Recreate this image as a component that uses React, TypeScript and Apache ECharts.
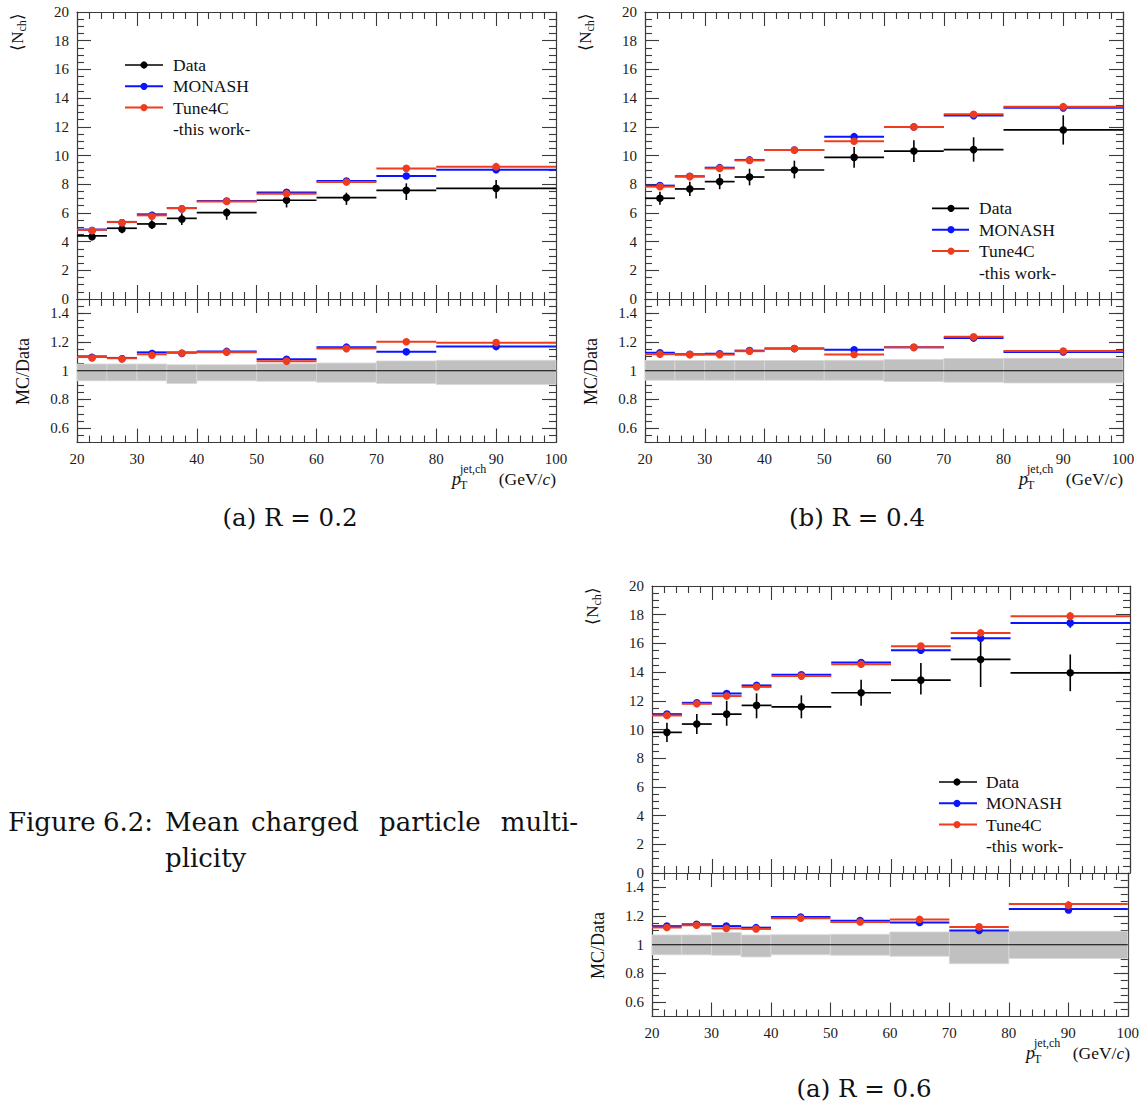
import { useEffect, useRef } from "react";
import * as echarts from "echarts";

// ---------- bins ----------
const binLo = [20, 25, 30, 35, 40, 50, 60, 70, 80];
const binHi = [25, 30, 35, 40, 50, 60, 70, 80, 100];
const ratioTickValues = [0.6, 0.8, 1, 1.2, 1.4];
const legendNames = ["Data", "MONASH", "Tune4C"];

// ---------- R = 0.2 ----------
const dataA = [4.40, 4.93, 5.23, 5.62, 6.02, 6.88, 7.06, 7.57, 7.71];
const dataAErrUp = [0.20, 0.25, 0.25, 0.35, 0.30, 0.40, 0.35, 0.49, 0.58];
const dataAErrDn = [0.30, 0.35, 0.35, 0.46, 0.50, 0.50, 0.50, 0.67, 0.70];
const monashA = [4.84, 5.37, 5.90, 6.33, 6.83, 7.43, 8.22, 8.57, 9.01];
const monashAErr = [0.03, 0.03, 0.03, 0.04, 0.04, 0.05, 0.06, 0.08, 0.15];
const tuneA = [4.82, 5.36, 5.83, 6.34, 6.80, 7.34, 8.15, 9.10, 9.22];
const tuneAErr = [0.03, 0.03, 0.03, 0.04, 0.04, 0.05, 0.06, 0.10, 0.20];
const bandAUp = [0.047, 0.047, 0.047, 0.042, 0.042, 0.049, 0.054, 0.068, 0.073];
const bandADn = [0.070, 0.070, 0.070, 0.089, 0.070, 0.073, 0.080, 0.089, 0.096];

// ---------- R = 0.4 ----------
const dataB = [7.02, 7.67, 8.18, 8.50, 8.99, 9.87, 10.31, 10.41, 11.78];
const dataBErrUp = [0.46, 0.50, 0.53, 0.58, 0.65, 0.72, 0.76, 0.86, 1.02];
const dataBErrDn = [0.46, 0.50, 0.53, 0.58, 0.58, 0.72, 0.76, 0.84, 1.02];
const monashB = [7.90, 8.55, 9.15, 9.69, 10.38, 11.31, 11.99, 12.78, 13.32];
const monashBErr = [0.03, 0.04, 0.04, 0.05, 0.05, 0.06, 0.08, 0.12, 0.20];
const tuneB = [7.83, 8.53, 9.10, 9.66, 10.38, 10.99, 11.99, 12.87, 13.40];
const tuneBErr = [0.03, 0.04, 0.04, 0.05, 0.05, 0.06, 0.08, 0.12, 0.25];
const bandBUp = [0.071, 0.071, 0.071, 0.071, 0.071, 0.073, 0.078, 0.085, 0.087];
const bandBDn = [0.066, 0.066, 0.066, 0.066, 0.066, 0.066, 0.075, 0.080, 0.085];

// ---------- R = 0.6 ----------
const dataC = [9.80, 10.38, 11.07, 11.68, 11.58, 12.56, 13.44, 14.88, 13.95];
const dataCErrUp = [0.67, 0.70, 0.93, 0.84, 0.80, 0.90, 1.20, 1.92, 1.28];
const dataCErrDn = [0.67, 0.70, 0.81, 0.90, 0.80, 0.90, 1.00, 1.92, 1.28];
const monashC = [11.07, 11.86, 12.51, 13.07, 13.81, 14.67, 15.53, 16.36, 17.43];
const monashCErr = [0.04, 0.05, 0.05, 0.06, 0.06, 0.08, 0.12, 0.25, 0.35];
const tuneC = [10.98, 11.79, 12.33, 12.97, 13.72, 14.55, 15.81, 16.73, 17.90];
const tuneCErr = [0.04, 0.05, 0.05, 0.06, 0.06, 0.08, 0.15, 0.20, 0.30];
const bandCUp = [0.068, 0.068, 0.085, 0.068, 0.070, 0.073, 0.089, 0.096, 0.094];
const bandCDn = [0.070, 0.070, 0.073, 0.085, 0.070, 0.073, 0.080, 0.132, 0.096];

// ---------- styles ----------
const BLACK = "#000000";
const BLUE = "#0a14ff";
const RED = "#f03c1e";
const AXIS = "#3a3a3a";
const FONT = "Liberation Serif";
const CAPFONT = "DejaVu Serif";

const panels = [
  {
    data: dataA, dUp: dataAErrUp, dDn: dataAErrDn,
    monash: monashA, mErr: monashAErr, tune: tuneA, tErr: tuneAErr,
    bUp: bandAUp, bDn: bandADn,
    left: 77, width: 479, top: 12,
    caption: "(a) R = 0.2", capX: 290, capY: 517,
    leg: { x1: 125, x2: 163, dot: 144, tx: 173, y: 65, dy: 21.3 },
  },
  {
    data: dataB, dUp: dataBErrUp, dDn: dataBErrDn,
    monash: monashB, mErr: monashBErr, tune: tuneB, tErr: tuneBErr,
    bUp: bandBUp, bDn: bandBDn,
    left: 645, width: 478, top: 12,
    caption: "(b) R = 0.4", capX: 857, capY: 517,
    leg: { x1: 932, x2: 969, dot: 951, tx: 979, y: 208.3, dy: 21.4 },
  },
  {
    data: dataC, dUp: dataCErrUp, dDn: dataCErrDn,
    monash: monashC, mErr: monashCErr, tune: tuneC, tErr: tuneCErr,
    bUp: bandCUp, bDn: bandCDn,
    left: 652, width: 478, top: 586,
    caption: "(a) R = 0.6", capX: 864, capY: 1088,
    leg: { x1: 939, x2: 977, dot: 957, tx: 986, y: 782, dy: 21.3 },
  },
];

const UPPER_H = 287;
const RATIO_H = 143.5;

function histRender(color: string, lw: number) {
  return (_params: any, api: any) => {
    const lo = api.value(0);
    const hi = api.value(1);
    const y = api.value(2);
    const up = api.value(3);
    const dn = api.value(4);
    const xc = (lo + hi) / 2;
    const a = api.coord([lo, y]);
    const b = api.coord([hi, y]);
    const c = api.coord([xc, y]);
    const t = api.coord([xc, y + up]);
    const d = api.coord([xc, y - dn]);
    return {
      type: "group",
      children: [
        { type: "line", shape: { x1: a[0], y1: a[1], x2: b[0], y2: b[1] }, style: { stroke: color, lineWidth: lw } },
        { type: "line", shape: { x1: c[0], y1: t[1], x2: c[0], y2: d[1] }, style: { stroke: color, lineWidth: 1.6 } },
        { type: "circle", shape: { cx: c[0], cy: c[1], r: 3.8 }, style: { fill: color } },
      ],
    };
  };
}

function bandRender(_params: any, api: any) {
  const lo = api.value(0);
  const hi = api.value(1);
  const yl = api.value(2);
  const yh = api.value(3);
  const p1 = api.coord([lo, yh]);
  const p2 = api.coord([hi, yl]);
  return {
    type: "rect",
    shape: { x: p1[0], y: p1[1], width: p2[0] - p1[0], height: p2[1] - p1[1] },
    style: { fill: "#c0c0c0", stroke: "#d8d8d8", lineWidth: 0.8 },
  };
}

const tickStyle = { color: AXIS, width: 1.1 };
const labelStyle = { fontFamily: FONT, fontSize: 15, color: "#1a1a1a" };

function xAxisDef(gridIndex: number, position: string, labels: boolean) {
  return {
    type: "value", gridIndex, position, min: 20, max: 100, interval: 10,
    axisLine: { show: true, onZero: false, lineStyle: { color: AXIS, width: 1.2 } },
    axisTick: { show: true, inside: true, length: 14, lineStyle: tickStyle },
    minorTick: { show: true, splitNumber: 5, length: 7, lineStyle: tickStyle },
    axisLabel: { show: labels, margin: 9, ...labelStyle },
    splitLine: { show: false },
    minorSplitLine: { show: false },
  };
}

function yUpperDef(gridIndex: number, position: string, labels: boolean) {
  return {
    type: "value", gridIndex, position, min: 0, max: 20, interval: 2,
    axisLine: { show: true, onZero: false, lineStyle: { color: AXIS, width: 1.2 } },
    axisTick: { show: true, inside: true, length: 14, lineStyle: tickStyle },
    minorTick: { show: true, splitNumber: 4, length: 7, lineStyle: tickStyle },
    axisLabel: { show: labels, margin: 8, ...labelStyle },
    splitLine: { show: false },
    minorSplitLine: { show: false },
  };
}

function yRatioMajor(gridIndex: number, position: string, labels: boolean) {
  return {
    type: "value", gridIndex, position, min: 0.5, max: 1.5,
    axisLine: { show: true, onZero: false, lineStyle: { color: AXIS, width: 1.2 } },
    axisTick: { show: true, inside: true, length: 14, lineStyle: tickStyle, customValues: ratioTickValues },
    axisLabel: {
      show: labels, margin: 8, ...labelStyle, customValues: ratioTickValues,
      formatter: (v: number) => String(Math.round(v * 10) / 10),
    },
    splitLine: { show: false },
  };
}

function yRatioMinor(gridIndex: number, position: string) {
  return {
    type: "value", gridIndex, position, offset: 0, min: 0.5, max: 1.5, interval: 0.05,
    axisLine: { show: false },
    axisTick: { show: true, inside: true, length: 7, lineStyle: tickStyle },
    axisLabel: { show: false },
    splitLine: { show: false },
  };
}

function txt(x: number, y: number, text: string, fontSize: number, extra: any = {}, styleExtra: any = {}) {
  return {
    type: "text", x, y, silent: true, ...extra,
    style: {
      text, fontSize, fontFamily: FONT, fill: "#111",
      align: "left", textAlign: "left", verticalAlign: "middle", textVerticalAlign: "middle",
      ...styleExtra,
    },
  };
}

function buildOption() {
  const grids: any[] = [];
  const xAxes: any[] = [];
  const yAxes: any[] = [];
  const series: any[] = [];
  const graphics: any[] = [];

  panels.forEach((p) => {
    const gU = grids.length;
    grids.push({ left: p.left, top: p.top, width: p.width, height: UPPER_H, containLabel: false });
    const gR = grids.length;
    grids.push({ left: p.left, top: p.top + UPPER_H, width: p.width, height: RATIO_H, containLabel: false });

    const xU = xAxes.length;
    xAxes.push(xAxisDef(gU, "bottom", false));
    xAxes.push(xAxisDef(gU, "top", false));
    const xR = xAxes.length;
    xAxes.push(xAxisDef(gR, "bottom", true));
    xAxes.push(xAxisDef(gR, "top", false));

    const yU = yAxes.length;
    yAxes.push(yUpperDef(gU, "left", true));
    yAxes.push(yUpperDef(gU, "right", false));
    const yR = yAxes.length;
    yAxes.push(yRatioMajor(gR, "left", true));
    yAxes.push(yRatioMinor(gR, "left"));
    yAxes.push(yRatioMajor(gR, "right", false));
    yAxes.push(yRatioMinor(gR, "right"));

    const mk = (vals: number[], up: number[], dn: number[]) =>
      vals.map((v, i) => [binLo[i], binHi[i], v, up[i], dn[i]]);

    // upper plot
    series.push({
      type: "custom", name: "Data", xAxisIndex: xU, yAxisIndex: yU, z: 3,
      renderItem: histRender(BLACK, 1.7), encode: { x: [0, 1], y: 2 },
      data: mk(p.data, p.dUp, p.dDn),
    });
    series.push({
      type: "custom", name: "MONASH", xAxisIndex: xU, yAxisIndex: yU, z: 4,
      renderItem: histRender(BLUE, 2), encode: { x: [0, 1], y: 2 },
      data: mk(p.monash, p.mErr, p.mErr),
    });
    series.push({
      type: "custom", name: "Tune4C", xAxisIndex: xU, yAxisIndex: yU, z: 5,
      renderItem: histRender(RED, 2), encode: { x: [0, 1], y: 2 },
      data: mk(p.tune, p.tErr, p.tErr),
    });

    // ratio plot
    series.push({
      type: "custom", name: "band", xAxisIndex: xR, yAxisIndex: yR, z: 2,
      renderItem: bandRender, encode: { x: [0, 1], y: [2, 3] },
      data: p.bUp.map((u, i) => [binLo[i], binHi[i], 1 - p.bDn[i], 1 + u]),
    });
    series.push({
      type: "line", name: "unity", xAxisIndex: xR, yAxisIndex: yR, z: 3,
      data: [[20, 1], [100, 1]], symbol: "none", silent: true,
      lineStyle: { color: "#000", width: 1 },
    });
    const ratio = (mc: number[], err: number[]) =>
      mc.map((v, i) => [binLo[i], binHi[i], v / p.data[i], err[i] / p.data[i], err[i] / p.data[i]]);
    series.push({
      type: "custom", name: "MONASH ratio", xAxisIndex: xR, yAxisIndex: yR, z: 4,
      renderItem: histRender(BLUE, 2), encode: { x: [0, 1], y: 2 },
      data: ratio(p.monash, p.mErr),
    });
    series.push({
      type: "custom", name: "Tune4C ratio", xAxisIndex: xR, yAxisIndex: yR, z: 5,
      renderItem: histRender(RED, 2), encode: { x: [0, 1], y: 2 },
      data: ratio(p.tune, p.tErr),
    });

    // legend
    const cols = [BLACK, BLUE, RED];
    legendNames.forEach((name, k) => {
      const y = p.leg.y + k * p.leg.dy;
      graphics.push({
        type: "line", silent: true,
        shape: { x1: p.leg.x1, y1: y, x2: p.leg.x2, y2: y },
        style: { stroke: cols[k], lineWidth: k === 0 ? 1.7 : 2 },
      });
      graphics.push({ type: "circle", silent: true, shape: { cx: p.leg.dot, cy: y, r: 3.6 }, style: { fill: cols[k] } });
      graphics.push(txt(p.leg.tx, y, name, 17.5));
    });
    graphics.push(txt(p.leg.tx, p.leg.y + 3 * p.leg.dy, "-this work-", 17.5));

    // y axis names
    const L = p.left;
    graphics.push({
      type: "text", silent: true, x: L - 60, y: p.top + 20, rotation: Math.PI / 2,
      style: {
        text: "{a|⟨N}{s|ch}{a|⟩}",
        align: "center", textAlign: "center", verticalAlign: "middle", textVerticalAlign: "middle",
        rich: {
          a: { fontFamily: FONT, fontSize: 17, fill: "#111", lineHeight: 20 },
          s: { fontFamily: FONT, fontSize: 12, fill: "#111", lineHeight: 20, padding: [9, 0, 0, 0] },
        },
      },
    });
    graphics.push({
      type: "text", silent: true, x: L - 54, y: p.top + UPPER_H + 72.5, rotation: Math.PI / 2,
      style: {
        text: "MC/Data", fontFamily: FONT, fontSize: 18, fill: "#111",
        align: "center", textAlign: "center", verticalAlign: "middle", textVerticalAlign: "middle",
      },
    });

    // x axis title
    const R = p.left + p.width;
    const by = p.top + UPPER_H + RATIO_H + 36;
    graphics.push(txt(R - 104, by, "p", 18, {}, { fontStyle: "italic" }));
    graphics.push(txt(R - 96, by - 10, "jet,ch", 12));
    graphics.push(txt(R - 96, by + 6, "T", 12));
    graphics.push({
      type: "text", silent: true, x: R, y: by,
      style: {
        text: "{n|(GeV/}{i|c}{n|)}",
        align: "right", textAlign: "right", verticalAlign: "middle", textVerticalAlign: "middle",
        rich: {
          n: { fontFamily: FONT, fontSize: 17.5, fill: "#111" },
          i: { fontFamily: FONT, fontSize: 17.5, fill: "#111", fontStyle: "italic" },
        },
      },
    });

    // caption
    graphics.push({
      type: "text", silent: true, x: p.capX, y: p.capY,
      style: {
        text: p.caption, fontFamily: CAPFONT, fontSize: 24.5, fill: "#111",
        align: "center", textAlign: "center", verticalAlign: "middle", textVerticalAlign: "middle",
      },
    });
  });

  // figure caption (justified line; last word right-aligned to the line end)
  const words: [string, number, string][] = [
    ["Figure", 8, "left"], ["6.2:", 103, "left"], ["Mean", 165, "left"],
    ["charged", 251, "left"], ["particle", 379, "left"], ["multi-", 578, "right"],
  ];
  words.forEach(([w, x, al]) => {
    graphics.push(txt(x, 822, w, 26, {}, { fontFamily: CAPFONT, align: al, textAlign: al }));
  });
  graphics.push(txt(165, 858, "plicity", 26, {}, { fontFamily: CAPFONT }));

  return {
    animation: false,
    backgroundColor: "#ffffff",
    grid: grids,
    xAxis: xAxes,
    yAxis: yAxes,
    series,
    graphic: { elements: graphics },
  };
}

export default function App() {
  const ref = useRef<HTMLDivElement>(null);
  useEffect(() => {
    if (!ref.current) return;
    const chart = echarts.init(ref.current, null, { renderer: "svg" });
    chart.setOption(buildOption() as any);
    return () => chart.dispose();
  }, []);
  return (
    <div
      ref={ref}
      style={{ position: "absolute", left: 0, top: 0, width: 1142, height: 1107, background: "#fff" }}
    />
  );
}
